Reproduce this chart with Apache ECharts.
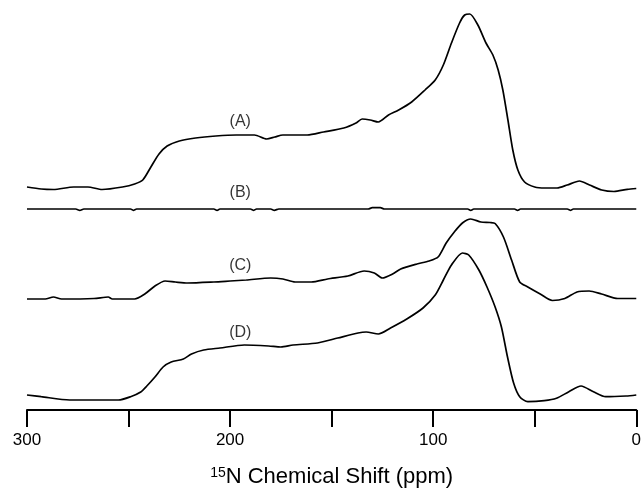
<!DOCTYPE html>
<html>
<head>
  <meta charset="utf-8">
  <title>15N spectra</title>
  <script src="https://cdn.jsdelivr.net/npm/echarts@6/dist/echarts.min.js"></script>
  <style>
    html, body { margin: 0; padding: 0; background: #fff; }
    #chart { width: 644px; height: 493px; }
  </style>
</head>
<body>
<div id="chart"></div>
<script>
  // spectra: [chemical shift (ppm), intensity above own baseline]
  let traceA = [
    [300,0],[293,-2],[287,-2.5],[277,0],[270,0],[263,-2.5],[253,0],[247,3],[243,7],[239,20],
    [235,33],[231,41],[225,46],[217,49],[207,51],[197,52],[188,52],[182,48],[178,50],[174,52],
    [162,52],[154,55],[144,59],[138,64],[135,68],[131,67],[127,65],[122,72],[117,77],[110.6,85],
    [104,97],[99,107],[95,122],[91,144],[87,164],[84.5,172],[82,173],[78,162],[74,144],[70.6,132],
    [68,117],[65.7,97],[63.2,67],[60.8,37],[58.3,17],[55,5],[50,0],[45,-1],[39,-1],[34,2],
    [28,6],[23,2],[17,-3],[11,-4.5],[4.4,-2.3],[0,-1.5]
  ];
  let traceB = [
    [300,0],[276,0],[274,-1.3],[272,0],[249,0],[247.7,-1.3],[246,0],[208,0],[206.4,-1.3],[205,0],
    [190,0],[188.3,-1.3],[187,0],[180,0],[178.2,-1.3],[176,0],[132,0],[130,1.3],[126,1.3],[124,0],
    [83,0],[81.5,-1.3],[80,0],[60,0],[58.4,-1.3],[57,0],[34,0],[32.2,-1.3],[31,0],[0,0]
  ];
  let traceC = [
    [300,0],[291,0],[287,2],[283,0],[267,0.5],[260,2],[258,0],[247,0],[242,5],[237,13],
    [232,18],[227,17],[221,16],[208,17],[200,18],[192,19],[180,21],[174,20],[168,17],[160,17],
    [152,20],[142,23],[134,28],[129,26],[125,21],[120,25],[116,30],[108,35],[102,38],[97.6,42],
    [93.6,56],[89.6,67],[85.6,76],[81.5,80],[76.5,77],[72,76.5],[69.5,75.5],[65.4,62],[61.4,39],[57.4,17],
    [53.4,12],[47.3,5],[41.3,-1.5],[35.2,0.5],[29.2,7],[23.2,8],[17.1,5],[9.1,0.5],[0,0.5]
  ];
  let traceD = [
    [300,1],[293,-0.7],[279,-4],[255,-4],[249,-0.7],[244,4],[241,10],[237,19],[233,29],[229,34],
    [223,37],[219,42],[213,46],[205,48],[193,51],[181,50],[175,49],[169,51],[157,53],[147,58],
    [137,63],[133,64],[127,62],[121,68],[113,77],[105,88],[99,101],[95,116],[91,131],[85.6,143],
    [82.5,141],[77.5,126],[73.5,109],[69.5,89],[66.4,69],[63.4,39],[60.4,13],[57.4,-0.7],[53.4,-5.7],[45.3,-4.7],
    [39.3,-2.3],[33.2,4.3],[27.2,10],[21.1,4.3],[15.1,-0.7],[5,0],[0,1]
  ];
  let traceNames = ['(A)', '(B)', '(C)', '(D)'];
  let tickValues = [300, 200, 100, 0];

  // stacking: vertical offset of each trace, and label lift above it
  let offsets = [223, 201, 111, 14];
  let labelLift = [65, 16, 33, 63];
  let labelShift = 195;

  let traces = [traceA, traceB, traceC, traceD];
  let series = traces.map(function (t, i) {
    return {
      name: traceNames[i],
      type: 'line',
      showSymbol: false,
      smooth: 0.25,
      lineStyle: { color: '#000', width: 1.7 },
      data: t.map(function (p) { return [p[0], p[1] + offsets[i]]; }),
      z: 2
    };
  });
  series.push({
    type: 'scatter',
    symbolSize: 0,
    itemStyle: { color: '#000' },
    label: {
      show: true,
      position: 'inside',
      color: '#000',
      textBorderWidth: 0,
      fontFamily: 'Liberation Sans, Arial, sans-serif',
      fontSize: 16,
      formatter: function (p) { return p.name; }
    },
    data: traceNames.map(function (n, i) {
      return { name: n, value: [labelShift, offsets[i] + labelLift[i]] };
    }),
    z: 3
  });

  let myChart = echarts.init(document.getElementById('chart'));
  myChart.setOption({
    animation: false,
    backgroundColor: '#fff',
    grid: { left: 27, right: 5, top: 0, bottom: 83 },
    xAxis: {
      type: 'value',
      inverse: true,
      min: 0,
      max: 300,
      interval: 50,
      splitLine: { show: false },
      axisLine: { lineStyle: { color: '#000', width: 2 } },
      axisTick: { length: 17, lineStyle: { color: '#000', width: 2 } },
      axisLabel: {
        color: '#000',
        margin: 22,
        fontSize: 17,
        fontFamily: 'Liberation Sans, Arial, sans-serif',
        formatter: function (v) { return tickValues.indexOf(v) >= 0 ? String(v) : ''; }
      },
      name: '{sup|15}N Chemical Shift (ppm)',
      nameLocation: 'middle',
      nameGap: 56,
      nameTextStyle: {
        color: '#000',
        fontSize: 22,
        fontFamily: 'Liberation Sans, Arial, sans-serif',
        rich: {
          sup: { fontSize: 14, verticalAlign: 'top', color: '#000', fontFamily: 'Liberation Sans, Arial, sans-serif' }
        }
      }
    },
    yAxis: { type: 'value', show: false, min: 0, max: 410 },
    series: series
  });
</script>
</body>
</html>
